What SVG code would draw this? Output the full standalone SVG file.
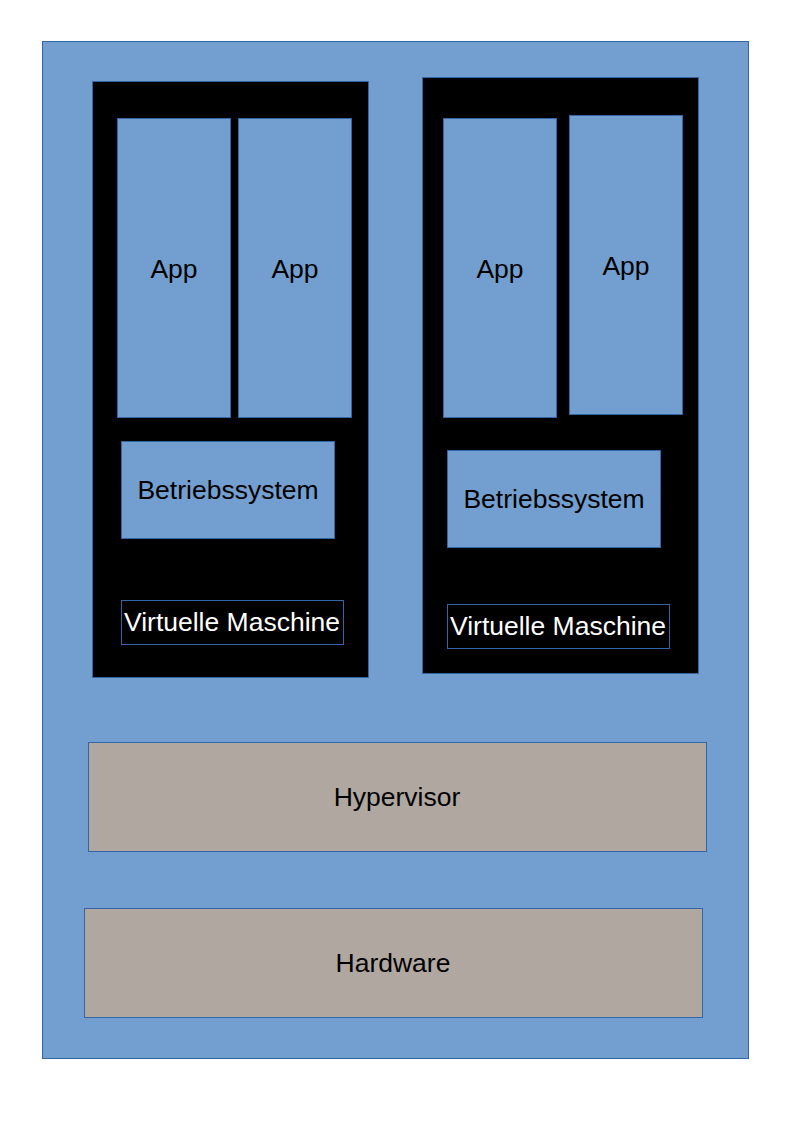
<svg xmlns="http://www.w3.org/2000/svg" width="794" height="1123" viewBox="0 0 794 1123">
<style>
.blue{fill:#729fcf;stroke:#3465a4;stroke-width:1}
.vm{fill:#000000;stroke:#3465a4;stroke-width:1}
.gray{fill:#b0a8a0;stroke:#3465a4;stroke-width:1}
.lbl{fill:none;stroke:#3465a4;stroke-width:1}
text{font-family:"Liberation Sans",Arial,sans-serif;font-size:26.5px;text-anchor:middle;fill:#000}
.w{fill:#ffffff}
</style>
<rect width="794" height="1123" fill="#ffffff"/>
<g id="host"><rect class="blue" x="42.5" y="41.5" width="706" height="1017"/></g>
<g id="vm1">
<rect class="vm" x="92.5" y="81.5" width="276" height="596"/>
<rect class="lbl" x="121.5" y="600.5" width="222" height="44"/>
<text class="w" x="232" y="631">Virtuelle Maschine</text>
</g>
<g id="vm1-app1"><rect class="blue" x="117.5" y="118.5" width="113" height="299"/><text x="174" y="278">App</text></g>
<g id="vm1-app2"><rect class="blue" x="238.5" y="118.5" width="113" height="299"/><text x="295" y="278">App</text></g>
<g id="vm1-os"><rect class="blue" x="121.5" y="441.5" width="213" height="97"/><text x="228" y="499">Betriebssystem</text></g>
<g id="vm2">
<rect class="vm" x="422.5" y="77.5" width="276" height="596"/>
<rect class="lbl" x="447.5" y="604.5" width="222" height="44"/>
<text class="w" x="558" y="635">Virtuelle Maschine</text>
</g>
<g id="vm2-app1"><rect class="blue" x="443.5" y="118.5" width="113" height="299"/><text x="500" y="278">App</text></g>
<g id="vm2-app2"><rect class="blue" x="569.5" y="115.5" width="113" height="299"/><text x="626" y="275">App</text></g>
<g id="vm2-os"><rect class="blue" x="447.5" y="450.5" width="213" height="97"/><text x="554" y="508">Betriebssystem</text></g>
<g id="hypervisor"><rect class="gray" x="88.5" y="742.5" width="618" height="109"/><text x="397" y="806">Hypervisor</text></g>
<g id="hardware"><rect class="gray" x="84.5" y="908.5" width="618" height="109"/><text x="393" y="972">Hardware</text></g>
<g id="connectors"></g>
</svg>
